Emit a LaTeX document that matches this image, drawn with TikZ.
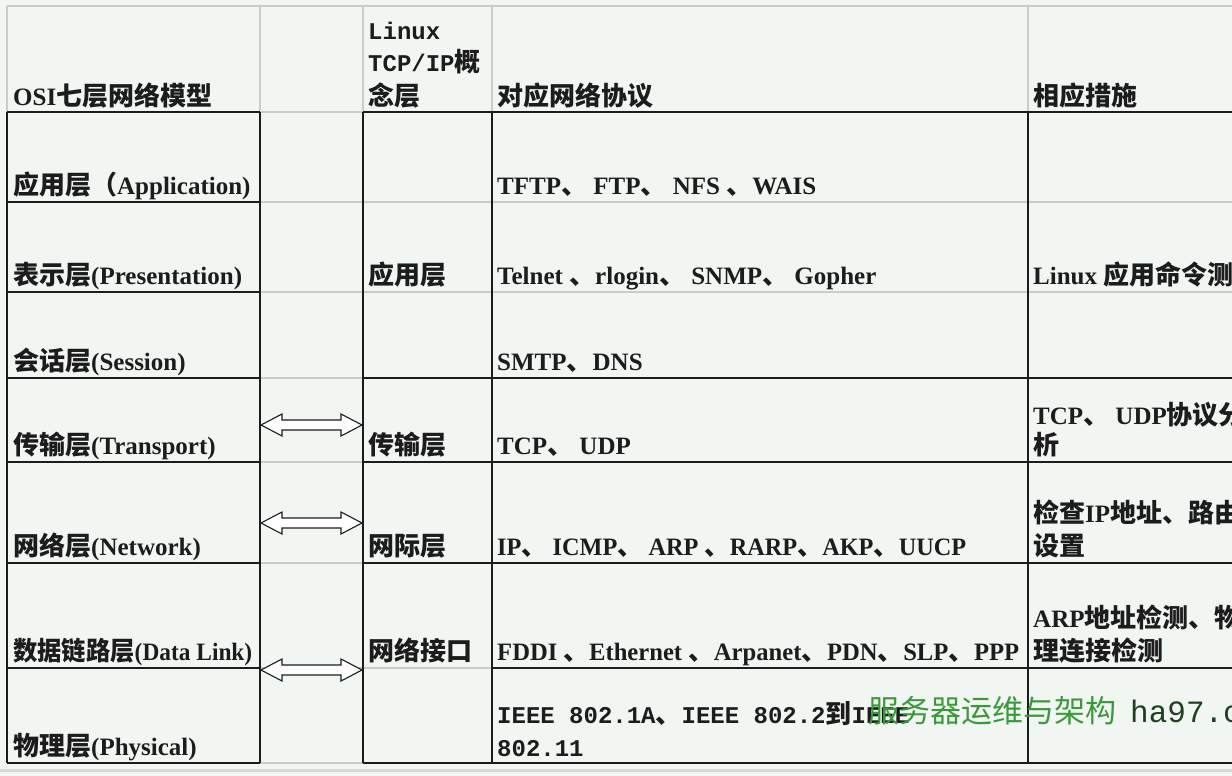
\documentclass[tikz,border=0pt]{standalone}
\usepackage{fontspec}
\usepackage{graphicx}
\setmainfont{Liberation Serif}
\setmonofont{Liberation Mono}
\newfontfamily\cjk{Noto Sans CJK SC}
\definecolor{bgc}{HTML}{F2F6F2}
\definecolor{gridc}{HTML}{C8CDC8}
\definecolor{darkc}{HTML}{1C1C1C}
\definecolor{framec}{HTML}{D6DBD6}
\definecolor{wmgreen}{HTML}{3A9A3A}
\definecolor{wmdark}{HTML}{1F3F1F}
\newcommand\C[1]{{\cjk\fontsize{26}{31}\selectfont #1}}
\newcommand\M[1]{{\ttfamily\fontsize{24}{31}\selectfont #1}}
\tikzset{
  txt/.style={anchor=base west, inner sep=0pt, text=darkc,
    font=\bfseries\fontsize{25}{31}\selectfont},
  wm/.style={anchor=base west, inner sep=0pt},
  gline/.style={draw=gridc, line width=1.4pt},
  dline/.style={draw=darkc, line width=1.8pt},
  darr/.style={draw=darkc, fill=white, line width=1.1pt, line join=miter},
}
\begin{document}
\begin{tikzpicture}[x=1pt,y=-1pt]
\useasboundingbox (0,0) rectangle (1232,776);
\clip (0,0) rectangle (1232,776);
\fill[bgc] (0,0) rectangle (1232,776);
\draw[framec, line width=3pt] (0,770) -- (1232,770);
% light grid
\draw[gline] (7,6) -- (1232,6);
\foreach \x in {7,260,363,492,1028} \draw[gline] (\x,6) -- (\x,112);
\foreach \y in {112,202,292,378,462,563,668,763} \draw[gline] (260,\y) -- (363,\y);
\foreach \y in {202,292} \draw[gline] (363,\y) -- (1232,\y);
\draw[gline] (363,668) -- (492,668);
% dark borders
\foreach \y in {112,202,292,378,462,563,668,763} \draw[dline] (7,\y) -- (260,\y);
\foreach \y in {112,378,462,563,763} \draw[dline] (363,\y) -- (1232,\y);
\draw[dline] (492,668) -- (1232,668);
\foreach \x in {7,260,363,492,1028} \draw[dline] (\x,112) -- (\x,763);
% double arrows
\foreach \yy in {425, 523, 670}{
  \draw[darr] (261,\yy) -- (282,\yy-11) -- (282,\yy-5) -- (341,\yy-5) -- (341,\yy-11)
    -- (362,\yy) -- (341,\yy+11) -- (341,\yy+5) -- (282,\yy+5) -- (282,\yy+11) -- cycle;
}
% header
\node[txt] (h1) at (13,105) {OSI\C{七层网络模型}};
\node[txt] (h2a) at (368,40) {\M{Linux}};
\node[txt] (h2b) at (368,72) {\M{TCP/IP}\C{概}};
\node[txt] (h2c) at (368,105) {\C{念层}};
\node[txt] (h3) at (497,105) {\C{对应网络协议}};
\node[txt] (h4) at (1033,105) {\C{相应措施}};
% column 1
\node[txt] (o1) at (13,194) {\C{应用层（}Application)};
\node[txt] (o2) at (13,284) {\C{表示层}(Presentation)};
\node[txt] (o3) at (13,370) {\C{会话层}(Session)};
\node[txt] (o4) at (13,454) {\C{传输层}(Transport)};
\node[txt] (o5) at (13,555) {\C{网络层}(Network)};
\node[txt] (o6) at (13,660) {\scalebox{0.935}[1]{\C{数据链路层}(Data Link)}};
\node[txt] (o7) at (13,755) {\C{物理层}(Physical)};
% column 3
\node[txt] (l1) at (368,284) {\C{应用层}};
\node[txt] (l2) at (368,454) {\C{传输层}};
\node[txt] (l3) at (368,555) {\C{网际层}};
\node[txt] (l4) at (368,660) {\C{网络接口}};
% column 4
\node[txt] (p1) at (497,194) {TFTP\C{、} FTP\C{、} NFS \C{、}WAIS};
\node[txt] (p2) at (497,284) {Telnet \C{、}rlogin\C{、} SNMP\C{、} Gopher};
\node[txt] (p3) at (497,370) {SMTP\C{、}DNS};
\node[txt] (p4) at (497,454) {TCP\C{、} UDP};
\node[txt] (p5) at (497,555) {\scalebox{0.97}[1]{IP\C{、} ICMP\C{、} ARP \C{、}RARP\C{、}AKP\C{、}UUCP}};
\node[txt] (p6) at (497,660) {\scalebox{0.985}[1]{FDDI \C{、}Ethernet \C{、}Arpanet\C{、}PDN\C{、}SLP\C{、}PPP}};
\node[txt] (p7a) at (497,723) {\M{IEEE 802.1A}\C{、}\M{IEEE 802.2}\C{到}\M{IEEE}};
\node[txt] (p7b) at (497,756) {\M{802.11}};
% column 5
\node[txt] (m1) at (1033,284) {Linux \C{应用命令测}};
\node[txt] (m2a) at (1033,424) {TCP\C{、} UDP\C{协议分}};
\node[txt] (m2b) at (1033,454) {\C{析}};
\node[txt] (m3a) at (1033,522) {\C{检查}IP\C{地址、路由}};
\node[txt] (m3b) at (1033,555) {\C{设置}};
\node[txt] (m4a) at (1033,627) {ARP\C{地址检测、物}};
\node[txt] (m4b) at (1033,660) {\C{理连接检测}};
% watermark
\node[wm, text=wmgreen, font=\cjk\fontsize{31}{36}\selectfont] (w1) at (868,722) {服务器运维与架构};
\node[wm, text=wmdark, font=\ttfamily\fontsize{31}{36}\selectfont] (w2) at (1130,722) {ha97.c};
\end{tikzpicture}
\end{document}
